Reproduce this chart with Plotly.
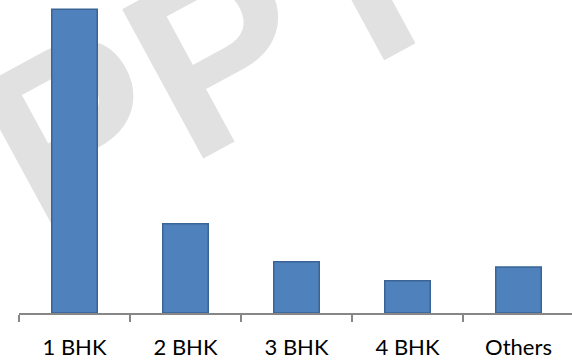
import base64
import plotly.graph_objects as go

# Share of flats by configuration
categories = ["1 BHK", "2 BHK", "3 BHK", "4 BHK", "Others"]
shares = [58.2, 17.1, 9.8, 6.2, 8.8]

W, H = 572, 360
M_LEFT, M_RIGHT, M_TOP, M_BOTTOM = 19, 0, 5, 47

# faint rotated "PPT" watermark behind the chart
wm_svg = f"""<svg xmlns='http://www.w3.org/2000/svg' width='{W}' height='{H}' viewBox='0 0 {W} {H}'>
<text x='0' y='0' transform='translate(44,245) rotate(-28.5)' font-family='Liberation Sans'
 font-weight='bold' font-size='247' fill='#e1e1e1'>PPT</text></svg>"""
wm_src = "data:image/svg+xml;base64," + base64.b64encode(wm_svg.encode()).decode()

plot_w = W - M_LEFT - M_RIGHT
plot_h = H - M_TOP - M_BOTTOM

fig = go.Figure(
    go.Bar(
        x=categories,
        y=shares,
        marker=dict(color="#4F81BD", line=dict(color="#3A6495", width=1.5)),
        width=0.41,
    )
)

fig.update_layout(
    width=W,
    height=H,
    margin=dict(l=M_LEFT, r=M_RIGHT, t=M_TOP, b=M_BOTTOM, pad=0),
    paper_bgcolor="white",
    plot_bgcolor="rgba(0,0,0,0)",
    showlegend=False,
    images=[
        dict(
            source=wm_src,
            xref="paper",
            yref="paper",
            x=-M_LEFT / plot_w,
            y=(H - M_BOTTOM) / plot_h,
            sizex=W / plot_w,
            sizey=H / plot_h,
            sizing="stretch",
            xanchor="left",
            yanchor="top",
            layer="below",
        )
    ],
)

fig.update_xaxes(
    range=[-0.5, -0.5 + plot_w / 111.0],
    showline=True,
    linecolor="#878787",
    linewidth=2,
    ticks="outside",
    tickson="boundaries",
    ticklen=7,
    tickwidth=1.5,
    tickcolor="#878787",
    showgrid=False,
    tickfont=dict(family="Lato", size=22, color="#000000"),
    ticklabelstandoff=14,
)
fig.update_yaxes(
    range=[0, 59],
    visible=False,
    showgrid=False,
    zeroline=False,
)

fig.write_html("out.html")
